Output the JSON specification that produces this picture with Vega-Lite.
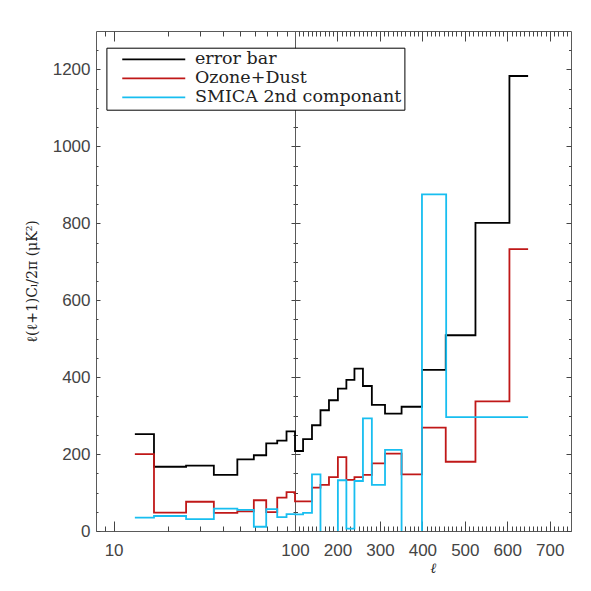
{
  "$schema": "https://vega.github.io/schema/vega-lite/v6.json",
  "background": "white",
  "padding": {"left": 24, "top": 30, "right": 15, "bottom": 16},
  "spacing": 0,
  "bounds": "flush",
  "config": {
    "view": {"stroke": "#5a5a5a", "strokeWidth": 1},
    "axis": {"grid": false, "domain": false, "tickColor": "#444", "tickWidth": 1, "labelFont": "Liberation Sans", "labelFontSize": 17, "labelColor": "#444", "titleFont": "DejaVu Serif", "titleFontWeight": "normal", "titleColor": "#222", "labelFlush": false, "labelOverlap": false, "labelBound": false}
  },
  "datasets": {
    "spectra": [
      {"series": "error bar", "l": 13.1, "v": 252}, {"series": "error bar", "l": 16.7, "v": 167}, {"series": "error bar", "l": 25.1, "v": 170}, {"series": "error bar", "l": 35.7, "v": 146}, {"series": "error bar", "l": 48.1, "v": 186}, {"series": "error bar", "l": 59.3, "v": 197}, {"series": "error bar", "l": 69.4, "v": 228}, {"series": "error bar", "l": 79.8, "v": 235}, {"series": "error bar", "l": 89.8, "v": 259}, {"series": "error bar", "l": 100, "v": 208}, {"series": "error bar", "l": 119, "v": 239}, {"series": "error bar", "l": 140, "v": 275}, {"series": "error bar", "l": 160, "v": 314}, {"series": "error bar", "l": 180, "v": 340}, {"series": "error bar", "l": 201, "v": 370}, {"series": "error bar", "l": 221, "v": 393}, {"series": "error bar", "l": 240, "v": 422}, {"series": "error bar", "l": 260, "v": 377}, {"series": "error bar", "l": 281, "v": 328}, {"series": "error bar", "l": 312, "v": 305}, {"series": "error bar", "l": 351, "v": 323}, {"series": "error bar", "l": 399, "v": 419}, {"series": "error bar", "l": 455, "v": 509}, {"series": "error bar", "l": 525, "v": 801}, {"series": "error bar", "l": 605, "v": 1183}, {"series": "error bar", "l": 649, "v": 1183},
      {"series": "Ozone+Dust", "l": 13.1, "v": 200}, {"series": "Ozone+Dust", "l": 16.7, "v": 48}, {"series": "Ozone+Dust", "l": 25.1, "v": 76}, {"series": "Ozone+Dust", "l": 35.7, "v": 47}, {"series": "Ozone+Dust", "l": 48.1, "v": 51}, {"series": "Ozone+Dust", "l": 59.3, "v": 80}, {"series": "Ozone+Dust", "l": 69.4, "v": 49}, {"series": "Ozone+Dust", "l": 79.8, "v": 87}, {"series": "Ozone+Dust", "l": 89.8, "v": 101}, {"series": "Ozone+Dust", "l": 100, "v": 77}, {"series": "Ozone+Dust", "l": 140, "v": 113}, {"series": "Ozone+Dust", "l": 160, "v": 120}, {"series": "Ozone+Dust", "l": 180, "v": 140}, {"series": "Ozone+Dust", "l": 201, "v": 192}, {"series": "Ozone+Dust", "l": 221, "v": 133}, {"series": "Ozone+Dust", "l": 240, "v": 140}, {"series": "Ozone+Dust", "l": 260, "v": 146}, {"series": "Ozone+Dust", "l": 281, "v": 176}, {"series": "Ozone+Dust", "l": 312, "v": 201}, {"series": "Ozone+Dust", "l": 351, "v": 147}, {"series": "Ozone+Dust", "l": 399, "v": 269}, {"series": "Ozone+Dust", "l": 455, "v": 180}, {"series": "Ozone+Dust", "l": 525, "v": 337}, {"series": "Ozone+Dust", "l": 605, "v": 733}, {"series": "Ozone+Dust", "l": 649, "v": 733},
      {"series": "SMICA 2nd componant", "l": 13.1, "v": 35}, {"series": "SMICA 2nd componant", "l": 16.7, "v": 39}, {"series": "SMICA 2nd componant", "l": 25.1, "v": 31}, {"series": "SMICA 2nd componant", "l": 35.7, "v": 58}, {"series": "SMICA 2nd componant", "l": 48.1, "v": 55}, {"series": "SMICA 2nd componant", "l": 59.3, "v": 11}, {"series": "SMICA 2nd componant", "l": 69.4, "v": 57}, {"series": "SMICA 2nd componant", "l": 79.8, "v": 36}, {"series": "SMICA 2nd componant", "l": 89.8, "v": 44}, {"series": "SMICA 2nd componant", "l": 100, "v": 43}, {"series": "SMICA 2nd componant", "l": 119, "v": 47}, {"series": "SMICA 2nd componant", "l": 140, "v": 147}, {"series": "SMICA 2nd componant", "l": 160, "v": -40}, {"series": "SMICA 2nd componant", "l": 201, "v": 132}, {"series": "SMICA 2nd componant", "l": 221, "v": 6}, {"series": "SMICA 2nd componant", "l": 240, "v": 130}, {"series": "SMICA 2nd componant", "l": 260, "v": 293}, {"series": "SMICA 2nd componant", "l": 281, "v": 120}, {"series": "SMICA 2nd componant", "l": 312, "v": 211}, {"series": "SMICA 2nd componant", "l": 351, "v": -40}, {"series": "SMICA 2nd componant", "l": 399, "v": 875}, {"series": "SMICA 2nd componant", "l": 456, "v": 296}, {"series": "SMICA 2nd componant", "l": 649, "v": 296}
    ]
  },
  "hconcat": [
    {
      "width": 199,
      "height": 500,
      "data": {"name": "spectra"},
      "resolve": {"axis": {"x": "independent", "y": "independent"}},
      "layer": [
        {
          "mark": {"type": "line", "interpolate": "step-after", "strokeWidth": 1.8, "clip": true},
          "encoding": {
            "x": {"field": "l", "type": "quantitative", "scale": {"type": "log", "domain": [8, 100], "nice": false}, "axis": {"orient": "bottom", "values": [10, 100], "format": "d", "tickSize": -10, "labelPadding": 21, "title": null}},
            "y": {"field": "v", "type": "quantitative", "scale": {"domain": [0, 1300], "nice": false}, "axis": {"orient": "left", "values": [0, 200, 400, 600, 800, 1000, 1200], "format": "d", "tickSize": -4, "labelPadding": 10, "title": "ℓ(ℓ+1)Cₗ/2π (μK²)", "titleFontSize": 14, "titlePadding": 13}},
            "color": {"field": "series", "type": "nominal", "scale": {"domain": ["error bar", "Ozone+Dust", "SMICA 2nd componant"], "range": ["#000000", "#c01818", "#18bef0"]},
              "legend": {"orient": "none", "legendX": 10.4, "legendY": 16.7, "title": null, "strokeColor": "#000000", "fillColor": "white", "padding": 3, "symbolType": "M-6.3,0H6.3", "symbolSize": 100, "symbolStrokeWidth": 1.8, "symbolOffset": 35.6, "labelOffset": 32.5, "labelFont": "DejaVu Serif", "labelFontSize": 17.5, "labelColor": "#222", "labelLimit": 400, "rowPadding": 0}}
          }
        },
        {
          "mark": {"type": "point", "opacity": 0, "clip": true},
          "encoding": {
            "x": {"field": "l", "type": "quantitative", "axis": {"orient": "bottom", "values": [9, 20, 30, 40, 50, 60, 70, 80, 90], "tickSize": -5, "labels": false, "title": null}},
            "y": {"field": "v", "type": "quantitative", "axis": {"orient": "left", "values": [50, 100, 150, 250, 300, 350, 450, 500, 550, 650, 700, 750, 850, 900, 950, 1050, 1100, 1150, 1250], "tickSize": -2, "labels": false, "title": null}}
          }
        },
        {
          "mark": {"type": "point", "opacity": 0, "clip": true},
          "encoding": {
            "x": {"field": "l", "type": "quantitative", "axis": {"orient": "top", "values": [10, 100], "tickSize": -10, "labels": false, "title": null}},
            "y": {"field": "v", "type": "quantitative", "axis": {"orient": "right", "values": [0, 200, 400, 600, 800, 1000, 1200], "tickSize": -4, "labels": false, "title": null}}
          }
        },
        {
          "mark": {"type": "point", "opacity": 0, "clip": true},
          "encoding": {
            "x": {"field": "l", "type": "quantitative", "axis": {"orient": "top", "values": [9, 20, 30, 40, 50, 60, 70, 80, 90], "tickSize": -5, "labels": false, "title": null}},
            "y": {"field": "v", "type": "quantitative", "axis": {"orient": "right", "values": [50, 100, 150, 250, 300, 350, 450, 500, 550, 650, 700, 750, 850, 900, 950, 1050, 1100, 1150, 1250], "tickSize": -2, "labels": false, "title": null}}
          }
        }
      ]
    },
    {
      "width": 276,
      "height": 500,
      "data": {"name": "spectra"},
      "resolve": {"axis": {"x": "independent", "y": "independent"}},
      "layer": [
        {
          "mark": {"type": "line", "interpolate": "step-after", "strokeWidth": 1.8, "clip": true},
          "encoding": {
            "x": {"field": "l", "type": "quantitative", "scale": {"domain": [100, 750], "nice": false, "zero": false}, "axis": {"orient": "bottom", "values": [200, 300, 400, 500, 600, 700], "format": "d", "tickSize": -10, "labelPadding": 21, "title": "ℓ", "titleFont": "DejaVu Serif", "titleFontStyle": "italic", "titleFontSize": 14, "titleY": 37, "titleBaseline": "middle"}},
            "y": {"field": "v", "type": "quantitative", "scale": {"domain": [0, 1300], "nice": false}, "axis": {"orient": "left", "values": [0, 200, 400, 600, 800, 1000, 1200], "tickSize": -5, "labels": false, "title": null}},
            "color": {"field": "series", "type": "nominal", "scale": {"domain": ["error bar", "Ozone+Dust", "SMICA 2nd componant"], "range": ["#000000", "#c01818", "#18bef0"]}, "legend": null}
          }
        },
        {
          "mark": {"type": "point", "opacity": 0, "clip": true},
          "encoding": {
            "x": {"field": "l", "type": "quantitative", "axis": {"orient": "bottom", "values": [110, 120, 130, 140, 150, 160, 170, 180, 190, 210, 220, 230, 240, 250, 260, 270, 280, 290, 310, 320, 330, 340, 350, 360, 370, 380, 390, 410, 420, 430, 440, 450, 460, 470, 480, 490, 510, 520, 530, 540, 550, 560, 570, 580, 590, 610, 620, 630, 640, 650, 660, 670, 680, 690, 710, 720, 730, 740], "tickSize": -5, "labels": false, "title": null}},
            "y": {"field": "v", "type": "quantitative", "axis": {"orient": "left", "values": [50, 100, 150, 250, 300, 350, 450, 500, 550, 650, 700, 750, 850, 900, 950, 1050, 1100, 1150, 1250], "tickSize": -2.5, "labels": false, "title": null}}
          }
        },
        {
          "mark": {"type": "point", "opacity": 0, "clip": true},
          "encoding": {
            "x": {"field": "l", "type": "quantitative", "axis": {"orient": "top", "values": [200, 300, 400, 500, 600, 700], "tickSize": -10, "labels": false, "title": null}},
            "y": {"field": "v", "type": "quantitative", "axis": {"orient": "right", "values": [0, 200, 400, 600, 800, 1000, 1200], "tickSize": -5, "labels": false, "title": null}}
          }
        },
        {
          "mark": {"type": "point", "opacity": 0, "clip": true},
          "encoding": {
            "x": {"field": "l", "type": "quantitative", "axis": {"orient": "top", "values": [110, 120, 130, 140, 150, 160, 170, 180, 190, 210, 220, 230, 240, 250, 260, 270, 280, 290, 310, 320, 330, 340, 350, 360, 370, 380, 390, 410, 420, 430, 440, 450, 460, 470, 480, 490, 510, 520, 530, 540, 550, 560, 570, 580, 590, 610, 620, 630, 640, 650, 660, 670, 680, 690, 710, 720, 730, 740], "tickSize": -5, "labels": false, "title": null}},
            "y": {"field": "v", "type": "quantitative", "axis": {"orient": "right", "values": [50, 100, 150, 250, 300, 350, 450, 500, 550, 650, 700, 750, 850, 900, 950, 1050, 1100, 1150, 1250], "tickSize": -2.5, "labels": false, "title": null}}
          }
        }
      ]
    }
  ]
}
